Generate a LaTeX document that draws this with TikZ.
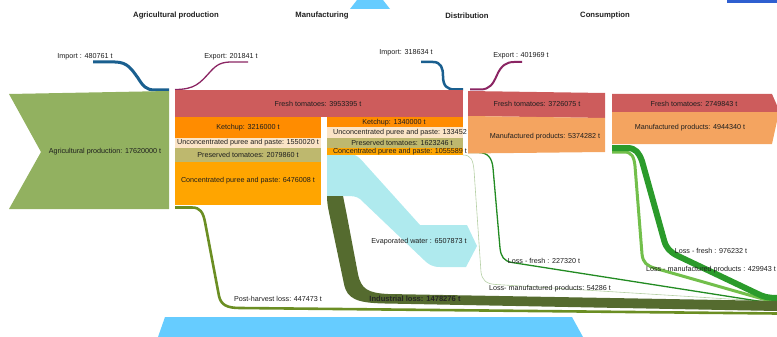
\documentclass[tikz,border=0pt]{standalone}
\usepackage{fontspec}
\setmainfont{Liberation Sans}
\definecolor{txt}{HTML}{1E1E1E}
\definecolor{agri}{HTML}{92B160}
\definecolor{tomred}{HTML}{CD5C5C}
\definecolor{ketch}{HTML}{FF8C00}
\definecolor{uncon}{HTML}{FBE4C6}
\definecolor{pres}{HTML}{BEB86E}
\definecolor{conc}{HTML}{FFA500}
\definecolor{sandy}{HTML}{F4A460}
\definecolor{evap}{HTML}{AFEAEE}
\definecolor{darkolive}{HTML}{556B2F}
\definecolor{olivedrab}{HTML}{6B8E23}
\definecolor{lossgreen}{HTML}{228B22}
\definecolor{thickgreen}{HTML}{2B9B2B}
\definecolor{lightgreen}{HTML}{72BF4B}
\definecolor{palegreen}{HTML}{B5CFA5}
\definecolor{impblue}{HTML}{1A5F8F}
\definecolor{exppurple}{HTML}{8B2563}
\definecolor{skyb}{HTML}{66CCFF}
\definecolor{royal}{HTML}{2F5FD0}
\begin{document}
\begin{tikzpicture}[x=1pt,y=-1pt,
  lbl/.style={font=\fontsize{7.2}{8}\selectfont, text=txt, inner sep=0pt},
  ttl/.style={font=\fontsize{7.7}{9}\selectfont\bfseries, text=txt, inner sep=0pt},
  flow/.style={line cap=butt, line join=round}]
\useasboundingbox (0,0) rectangle (777,337);

% decorative blue shapes
\fill[skyb] (350,9) -- (357,0) -- (383,0) -- (390,9) -- cycle;
\fill[royal] (727,0) rectangle (777,3);
\fill[skyb] (158,337) -- (165,317) -- (572,317) -- (583,337) -- cycle;

% titles
\node[ttl] (tAgri) at (176,16) {Agricultural production};
\node[ttl] (tMan) at (322,16) {Manufacturing};
\node[ttl] (tDist) at (467,16) {Distribution};
\node[ttl] (tCons) at (605,16) {Consumption};

% named coordinates of flow ends
\coordinate (imp1s) at (93,62);
\coordinate (imp1e) at (169,90);
\coordinate (exp1s) at (175,89.5);
\coordinate (exp1e) at (248,62);
\coordinate (imp2s) at (421,62);
\coordinate (imp2e) at (463,89.5);
\coordinate (exp2s) at (470,89.5);
\coordinate (exp2e) at (522,62);
\coordinate (phs) at (175,207.5);
\coordinate (phe) at (777,313.5);
\coordinate (dlfs) at (468,152.5);
\coordinate (dlfe) at (777,304);
\coordinate (dlms) at (463,155);
\coordinate (dlme) at (777,302);
\coordinate (clms) at (612,152);
\coordinate (clme) at (777,303);
\coordinate (clfs) at (612,148);
\coordinate (clfe) at (777,298);

% loss flows (under boxes)
\draw[flow, olivedrab, line width=2.6] (phs) -- (192,207.5) .. controls (200,207.5) and (203,212) .. (205,222) -- (219,296) .. controls (221,305) and (227,308) .. (240,308) -- (phe);
\draw[flow, palegreen, line width=0.6] (dlms) .. controls (471,155) and (473,160) .. (474,170) -- (481,272) .. controls (482,280) and (486,284) .. (496,284.5) -- (dlme);
\draw[flow, lossgreen, line width=1.3] (dlfs) -- (478,152.5) .. controls (488,152.5) and (492,158) .. (493,168) -- (500,248) .. controls (501,257) and (504,261) .. (512,262.5) -- (dlfe);
\draw[flow, lightgreen, line width=3] (clms) -- (624,152) .. controls (632,152) and (634,157) .. (635,166) -- (642,254) .. controls (643,263) and (647,266) .. (656,268.5) -- (clme);
\draw[flow, thickgreen, line width=6] (clfs) -- (627,148) .. controls (636,148) and (639,153) .. (642,161) -- (664,240) .. controls (666,248) and (670,252) .. (678,256) -- (758,294) .. controls (762,296) and (767,298) .. (clfe);

% evaporated water
\fill[evap] (327,154) -- (350,154) .. controls (356,154) and (360,158) .. (365,164) -- (420,225) -- (467,225) -- (477,246) -- (466,267) -- (440,267) .. controls (432,267) and (428,264) .. (424,260) -- (360,199) .. controls (356,196) and (352,196) .. (345,196) -- (327,196) -- cycle;

% industrial loss
\fill[darkolive] (327,196) -- (343,196) .. controls (345,206) .. (347,216) -- (358,274) .. controls (361,289) and (368,293) .. (388,294) -- (777,301) -- (777,311) -- (385,303.5) .. controls (357,303) and (347,299) .. (344,284) -- (331,222) .. controls (329,212) and (327,205) .. cycle;

% import / export
\draw[flow, impblue, line width=3] (imp1s) -- (115,62) .. controls (128,62) and (132,70) .. (138,78) .. controls (143,86) and (146,90) .. (155,90) -- (imp1e);
\draw[flow, exppurple, line width=1.3] (exp1s) .. controls (195,89.5) and (200,83) .. (210,72) .. controls (217,64) and (222,62) .. (232,62) -- (exp1e);
\draw[flow, impblue, line width=2.5] (imp2s) -- (433,62) .. controls (441,62) and (443,68) .. (443,76) .. controls (443,86) and (447,89.5) .. (455,89.5) -- (imp2e);
\draw[flow, exppurple, line width=2] (exp2s) -- (480,89.5) .. controls (490,89.5) and (493,84) .. (497,75) .. controls (501,66) and (506,62) .. (514,62) -- (exp2e);

% agricultural production
\fill[agri] (9,94) -- (169,91) -- (169,209) -- (9,209) -- (41,152) -- cycle;

% manufacturing
\fill[tomred] (175,90.5) rectangle (463,117);
\fill[ketch] (175,117) rectangle (321,138);
\fill[uncon] (175,138) rectangle (321,148);
\fill[pres] (175,148) rectangle (321,162);
\fill[conc] (175,162) rectangle (321,205);
\fill[ketch] (327,117) rectangle (463,127);
\fill[uncon] (327,127) rectangle (463,138);
\fill[pres] (327,138) rectangle (463,148);
\fill[conc] (327,148) rectangle (463,154.5);

% distribution
\fill[tomred] (468,91) -- (605,93) -- (605,118) -- (468,116) -- cycle;
\fill[sandy] (468,116) -- (605,118) -- (605,152) -- (468,153.5) -- cycle;

% consumption
\fill[tomred] (612,94) -- (772,94) -- (779,110) -- (779,112) -- (612,112) -- cycle;
\fill[sandy] (612,112) -- (779,112) -- (772,144) -- (612,144) -- cycle;

% labels
\node[lbl] (lImp1) at (85,57) {Import : 480761 t};
\node[lbl] (lExp1) at (231,57) {Export: 201841 t};
\node[lbl] (lImp2) at (406,53) {Import: 318634 t};
\node[lbl] (lExp2) at (521,56) {Export : 401969 t};
\node[lbl] (lAgri) at (105,152) {Agricultural production: 17620000 t};
\node[lbl] (lFresh1) at (318,104) {Fresh tomatoes: 3953395 t};
\node[lbl] (lKet1) at (248,128) {Ketchup: 3216000 t};
\node[lbl] (lUnc1) at (248,143) {Unconcentrated puree and paste: 1550020 t};
\node[lbl] (lPre1) at (248,155) {Preserved tomatoes: 2079860 t};
\node[lbl] (lCon1) at (248,181) {Concentrated puree and paste: 6476008 t};
\node[lbl] (lKet2) at (394,122.5) {Ketchup: 1340000 t};
\node[lbl] (lUnc2) at (400,133) {Unconcentrated puree and paste: 133452};
\node[lbl] (lPre2) at (402,143) {Preserved tomatoes: 1623246 t};
\node[lbl] (lCon2) at (400,151.5) {Concentrated puree and paste: 1055589 t};
\node[lbl] (lFresh2) at (537,104) {Fresh tomatoes: 3726075 t};
\node[lbl] (lMan2) at (545,137) {Manufactured products: 5374282 t};
\node[lbl] (lFresh3) at (694,104) {Fresh tomatoes: 2749843 t};
\node[lbl] (lMan3) at (690,128) {Manufactured products: 4944340 t};
\node[lbl] (lEvap) at (419,242) {Evaporated water : 6507873 t};
\node[lbl] (lPost) at (278,299) {Post-harvest loss: 447473 t};
\node[lbl, font=\fontsize{7.6}{9}\selectfont\bfseries, text=black!85] (lInd) at (415,299) {Industrial loss: 1478276 t};
\node[lbl] (lLf1) at (544,261) {Loss - fresh : 227320 t};
\node[lbl] (lLm1) at (550,289) {Loss- manufactured products: 54286 t};
\node[lbl] (lLf2) at (711,251) {Loss - fresh : 976232 t};
\node[lbl] (lLm2) at (711,270) {Loss - manufactured products : 429943 t};
\end{tikzpicture}
\end{document}
